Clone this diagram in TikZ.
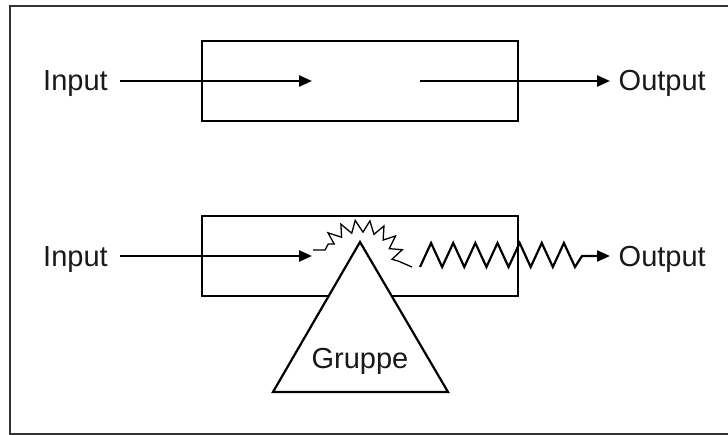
\documentclass[tikz,border=0pt]{standalone}
\usepackage{fontspec}
\setmainfont{Liberation Sans}
\usetikzlibrary{arrows.meta,decorations.pathmorphing}
\begin{document}
\begin{tikzpicture}[x=1pt,y=-1pt,
  lbl/.style={inner sep=0pt,font=\fontsize{29}{34}\selectfont,text=black!90},
  boxline/.style={line width=2.4pt},
  arr/.style={line width=2.4pt,-{Triangle[length=13pt,width=11pt]}},
  framestyle/.style={line width=1.6pt,draw=black!80}]
\useasboundingbox (0,0) rectangle (728,435);
\draw[framestyle] (729,6) -- (10,6) -- (10,434) -- (729,434);
% top row
\draw[boxline] (202,41) rectangle (518,121);
\node[lbl,anchor=base west] (in1) at (43,91) {Input};
\node[lbl,anchor=base west] (out1) at (618.5,91) {Output};
\coordinate (a1s) at (120,81);
\coordinate (a1e) at (312,81);
\coordinate (a2s) at (420,81);
\coordinate (a2e) at (610,81);
\draw[arr] (a1s) -- (a1e);
\draw[arr] (a2s) -- (a2e);
% bottom row
\draw[boxline] (202,216) rectangle (518,296);
\node[lbl,anchor=base west] (in2) at (43,266.5) {Input};
\node[lbl,anchor=base west] (out2) at (618.5,266.5) {Output};
\coordinate (b1s) at (120,256);
\coordinate (b1e) at (312,256);
\draw[arr] (b1s) -- (b1e);
% small zigzag arc
\draw[line width=1.3pt,decorate,decoration={zigzag,segment length=13pt,amplitude=6pt,pre=lineto,pre length=12pt,post=lineto,post length=13pt}]
  (313,250) -- (326,250) .. controls (330,220) and (395,213) .. (398,261) -- (412,267);
% big zigzag with arrow
\coordinate (z0) at (420,267);
\coordinate (zb) at (582,256);
\coordinate (ze) at (610,256);
\draw[arr,line width=2.2pt] (z0)
  foreach \k in {1,3,...,13} { -- ({420+\k*11.07},243) -- ({420+(\k+1)*11.07},267) }
  -- (zb) -- (ze);
% triangle
\coordinate (tA) at (360,242);
\coordinate (tL) at (273,392);
\coordinate (tR) at (448,392);
\draw[line width=2.2pt,fill=white,line join=miter] (tA) -- (tL) -- (tR) -- cycle;
\node[lbl,anchor=base] (grp) at (360,369) {Gruppe};
\end{tikzpicture}
\end{document}
